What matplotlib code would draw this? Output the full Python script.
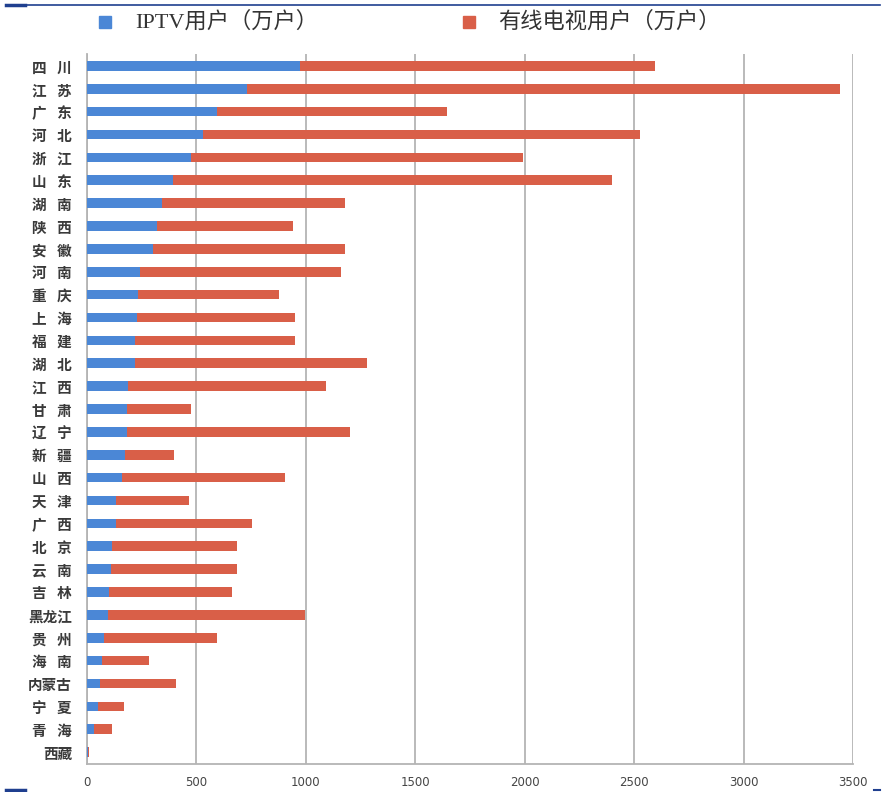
import matplotlib
matplotlib.use("Agg")
import matplotlib.pyplot as plt
from matplotlib.lines import Line2D
from matplotlib.patches import Rectangle

plt.rcParams['font.family'] = ['Noto Sans CJK SC', 'DejaVu Sans']

SP = "\u2002 "
provinces = ["四" + SP + "川", "江" + SP + "苏", "广" + SP + "东", "河" + SP + "北", "浙" + SP + "江",
             "山" + SP + "东", "湖" + SP + "南", "陕" + SP + "西", "安" + SP + "徽", "河" + SP + "南",
             "重" + SP + "庆", "上" + SP + "海", "福" + SP + "建", "湖" + SP + "北", "江" + SP + "西",
             "甘" + SP + "肃", "辽" + SP + "宁", "新" + SP + "疆", "山" + SP + "西", "天" + SP + "津",
             "广" + SP + "西", "北" + SP + "京", "云" + SP + "南", "吉" + SP + "林", "黑龙江",
             "贵" + SP + "州", "海" + SP + "南", "内蒙古", "宁" + SP + "夏", "青" + SP + "海", "西藏"]
iptv = [973, 730, 594, 529, 473, 392, 344, 321, 303, 242,
        233, 230, 221, 218, 189, 182, 182, 173, 158, 133,
        133, 115, 109, 102, 94, 79, 68, 61, 48, 33, 3]
total = [2594, 3442, 1644, 2526, 1991, 2400, 1177, 939, 1177, 1159,
         879, 952, 952, 1280, 1091, 477, 1202, 398, 903, 465,
         752, 685, 685, 661, 997, 594, 285, 405, 168, 114, 9]
cable = [t - i for t, i in zip(total, iptv)]
xticks = [0, 500, 1000, 1500, 2000, 2500, 3000, 3500]
legend_labels = ["IPTV用户（万户）", "有线电视用户（万户）"]

blue = '#4B87D6'
red = '#D95F48'

fig = plt.figure(figsize=(8.83, 7.92), dpi=100)
ax = fig.add_axes([87/883, 1-764/792, (853-87)/883, (764-54)/792])

y = list(range(len(provinces)))
ax.barh(y, iptv, height=0.42, color=blue, zorder=3)
ax.barh(y, cable, left=iptv, height=0.42, color=red, zorder=3)

ax.set_xlim(0, 3500)
ax.set_ylim(len(provinces) - 0.48, -0.52)
ax.set_xticks(xticks)
ax.set_xticklabels([str(v) for v in xticks], fontsize=8.5, color='#454545', family=['DejaVu Sans'])
ax.set_yticks(y)
ax.set_yticklabels(provinces, fontsize=10.5, color='#3a3a3a', fontweight='bold')
ax.tick_params(axis='both', length=0)
ax.tick_params(axis='x', pad=9)
ax.tick_params(axis='y', pad=10.8)
ax.xaxis.grid(True, color='#b4b4b4', linewidth=1.3, zorder=0)
for s in ['top', 'right']:
    ax.spines[s].set_visible(False)
ax.spines['left'].set_color('#b4b4b4')
ax.spines['left'].set_linewidth(1.3)
ax.spines['bottom'].set_color('#b4b4b4')
ax.spines['bottom'].set_linewidth(1.3)

# legend
leg_font = ['Liberation Serif', 'Noto Sans CJK SC']
fig.patches.append(Rectangle((99/883, 1-28/792), 12/883, 12/792, transform=fig.transFigure,
                             color=blue, figure=fig))
fig.text(135/883, 1-22/792, legend_labels[0], fontsize=16, color='#333333', va='center',
         family=leg_font)
fig.patches.append(Rectangle((463/883, 1-28/792), 12/883, 12/792, transform=fig.transFigure,
                             color=red, figure=fig))
fig.text(498/883, 1-22/792, legend_labels[1], fontsize=16, color='#333333', va='center',
         family=leg_font)

# decorative lines
fig.add_artist(Line2D([6/883, 880/883], [1-5/792, 1-5/792], color='#1F3F8F', linewidth=1.2,
                      transform=fig.transFigure))
fig.add_artist(Line2D([6/883, 25/883], [1-5/792, 1-5/792], color='#1F3F8F', linewidth=2.5,
                      transform=fig.transFigure))
fig.add_artist(Line2D([6/883, 25/883], [1-790/792, 1-790/792], color='#1F3F8F', linewidth=2.5,
                      transform=fig.transFigure))
fig.add_artist(Line2D([874/883, 880/883], [1-790/792, 1-790/792], color='#1F3F8F', linewidth=1.5,
                      transform=fig.transFigure))

fig.savefig("out.png", dpi=100)
